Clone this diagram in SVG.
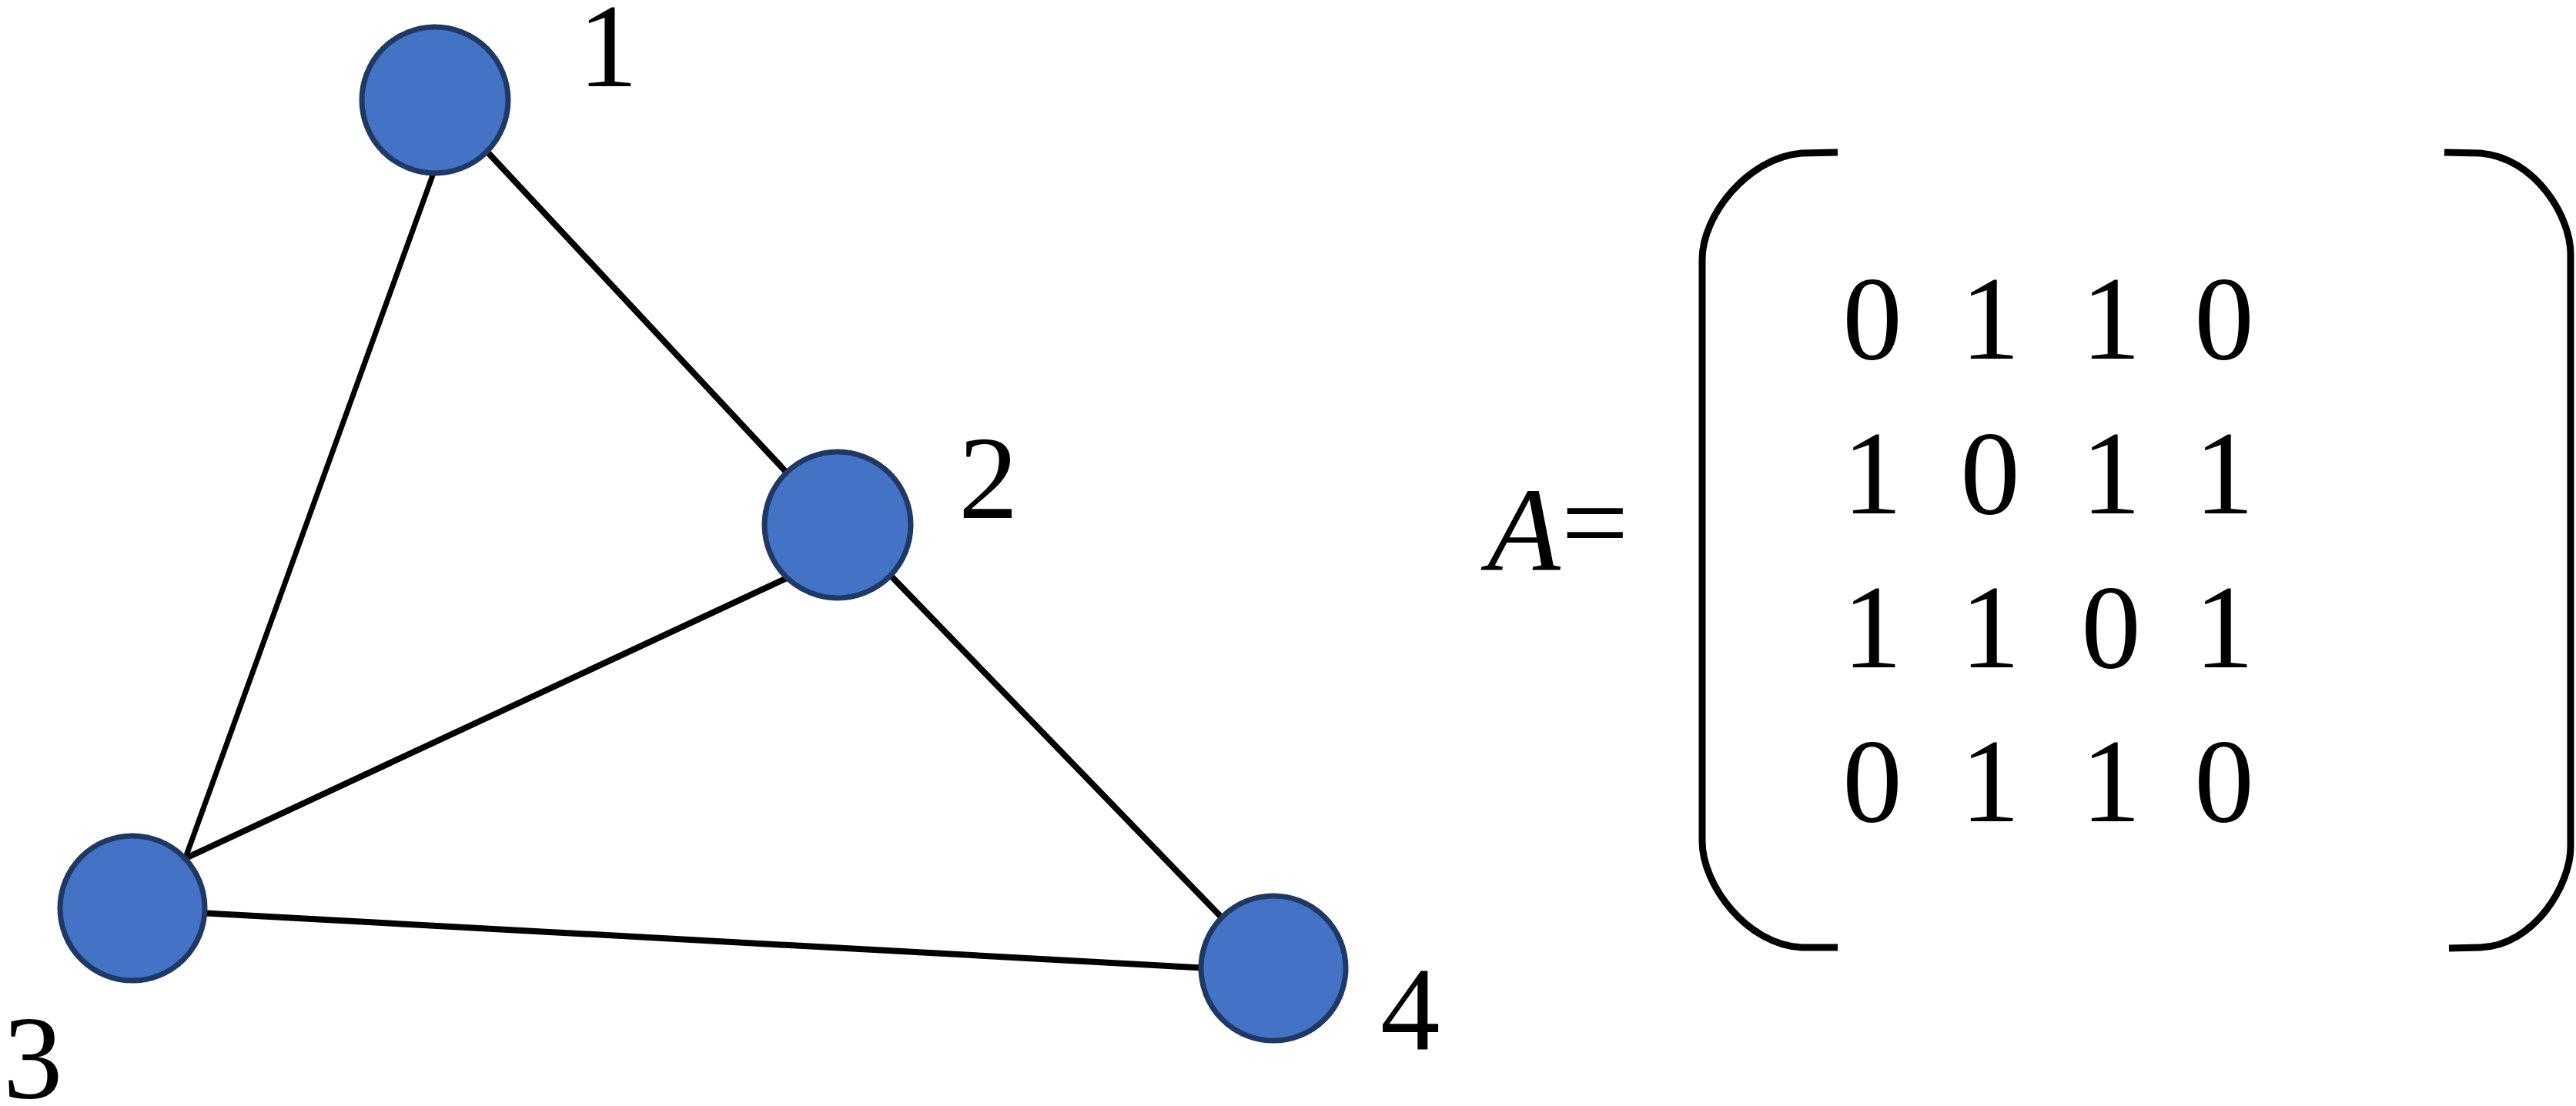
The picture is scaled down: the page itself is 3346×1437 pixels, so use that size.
<svg xmlns="http://www.w3.org/2000/svg" width="3346" height="1437" viewBox="0 0 3346 1437">
<style>
.edge{stroke:#000;stroke-width:8;fill:none;stroke-linecap:round}
.node{fill:#4472C4;stroke:#1F3864;stroke-width:7}
.lbl{font-family:"Liberation Serif","Times New Roman",serif;font-size:155px;fill:#000}
.br{stroke:#000;stroke-width:9;fill:none;stroke-linejoin:round}
</style>
<rect width="3346" height="1437" fill="#fff"/>
<g id="connectors">
<line class="edge" x1="600" y1="162" x2="1060" y2="655"/>
<line class="edge" x1="563" y1="225" x2="240" y2="1117" style="stroke-width:7"/>
<line class="edge" x1="1050" y1="738" x2="237" y2="1117"/>
<line class="edge" x1="1130" y1="720" x2="1610" y2="1216"/>
<line class="edge" x1="240" y1="1185" x2="1590" y2="1259"/>
</g>
<g id="node1"><circle class="node" cx="565" cy="130" r="95"/><text class="lbl" x="751" y="112">1</text></g>
<g id="node2"><circle class="node" cx="1088" cy="682" r="95"/><text class="lbl" x="1245" y="673">2</text></g>
<g id="node3"><circle class="node" cx="172" cy="1180" r="94"/><text class="lbl" x="4" y="1426">3</text></g>
<g id="node4"><circle class="node" cx="1654" cy="1258" r="94"/><text class="lbl" x="1793" y="1363">4</text></g>
<g id="matrix">
<text class="lbl" x="1932" y="740" font-style="italic">A</text>
<text class="lbl" x="2028" y="731">=</text>
<path class="br" d="M2387,198 L2340,199 C2270,205 2211,280 2211,337 L2211,1093 C2211,1150 2270,1228 2340,1231 L2387,1231"/>
<path class="br" d="M3175,198 L3222,199 C3292,205 3339,280 3339,330 L3339,1100 C3339,1150 3292,1228 3222,1231 L3181,1232"/>
<g class="lbl" text-anchor="middle">
<text x="2432" y="466">0</text><text x="2585" y="466">1</text><text x="2742" y="466">1</text><text x="2889" y="466">0</text>
<text x="2432" y="667">1</text><text x="2585" y="667">0</text><text x="2742" y="667">1</text><text x="2889" y="667">1</text>
<text x="2432" y="867">1</text><text x="2585" y="867">1</text><text x="2742" y="867">0</text><text x="2889" y="867">1</text>
<text x="2432" y="1067">0</text><text x="2585" y="1067">1</text><text x="2742" y="1067">1</text><text x="2889" y="1067">0</text>
</g>
</g>
</svg>
